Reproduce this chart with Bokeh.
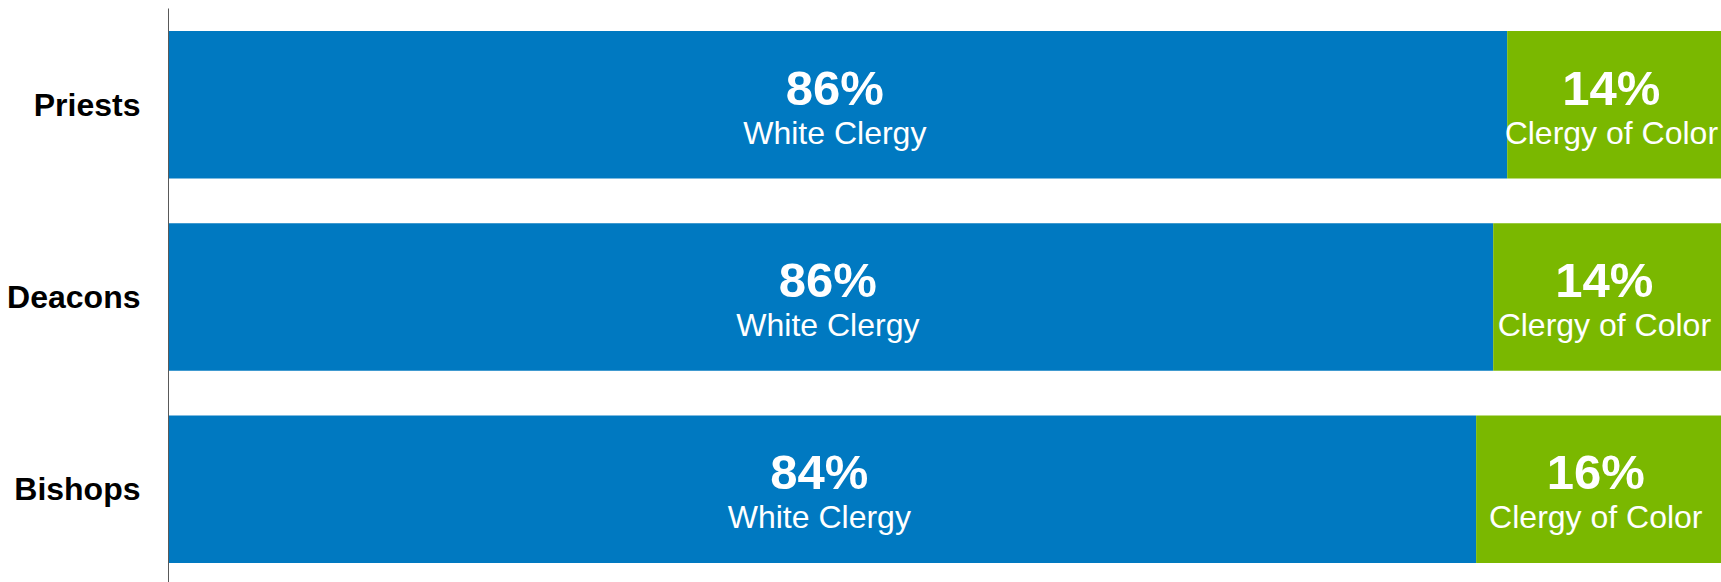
from bokeh.plotting import figure
from bokeh.models import ColumnDataSource, Range1d, FixedTicker
from bokeh.core.properties import value
from bokeh.embed import file_html
from bokeh.resources import INLINE

# ---- data ----
categories = ["Priests", "Deacons", "Bishops"]
white_share = [86.2, 85.3, 84.2]
color_share = [13.8, 14.7, 15.8]
white_pct_labels = ["86%", "86%", "84%"]
color_pct_labels = ["14%", "14%", "16%"]
white_name = "White Clergy"
color_name = "Clergy of Color"

BLUE = "#0079C1"
GREEN = "#7AB800"
FONT = "Liberation Sans"

# ---- layout constants ----
W, H = 1721, 582
LEFT = 168
TOP = 8
UNIT_PX = 192.3          # vertical pixels per category slot
BAR_H = 0.767            # bar thickness in slot units
PX_PER_PCT = 15.53
n = len(categories)
ypos = [n - 0.5 - i for i in range(n)]  # top to bottom

src = ColumnDataSource(dict(
    y=ypos,
    cat=categories,
    white=white_share,
    color_end=[w + c for w, c in zip(white_share, color_share)],
    white_mid=[w / 2 for w in white_share],
    color_mid=[w + c / 2 for w, c in zip(white_share, color_share)],
    wpct=white_pct_labels,
    cpct=color_pct_labels,
    wname=[white_name] * n,
    cname=[color_name] * n,
))

frame_w = W - LEFT
frame_h = H - TOP
p = figure(width=W, height=H, output_backend="svg", toolbar_location=None,
           x_range=Range1d(0, frame_w / PX_PER_PCT),
           y_range=Range1d(n - frame_h / UNIT_PX, n),
           min_border_left=LEFT, min_border_right=0,
           min_border_top=TOP, min_border_bottom=0)

p.hbar(y="y", left=0, right="white", height=BAR_H, source=src,
       fill_color=BLUE, line_color=None)
p.hbar(y="y", left="white", right="color_end", height=BAR_H, source=src,
       fill_color=GREEN, line_color=None)

for xcol, pcol, ncol in (("white_mid", "wpct", "wname"), ("color_mid", "cpct", "cname")):
    p.text(x=xcol, y="y", text=pcol, source=src, text_align="center",
           text_baseline="alphabetic", y_offset=-17, x_offset=-3,
           text_font=value(FONT), text_font_style="bold",
           text_font_size="49px", text_color="white")
    p.text(x=xcol, y="y", text=ncol, source=src, text_align="center",
           text_baseline="alphabetic", y_offset=28, x_offset=-3,
           text_font=value(FONT), text_font_size="32px", text_color="white")

p.xaxis.visible = False
p.xgrid.visible = False
p.ygrid.visible = False
p.outline_line_color = None

p.yaxis.ticker = FixedTicker(ticks=ypos)
p.yaxis.major_label_overrides = {y: c for y, c in zip(ypos, categories)}
p.yaxis.major_tick_line_color = None
p.yaxis.minor_tick_line_color = None
p.yaxis.major_tick_out = 0
p.yaxis.major_tick_in = 0
p.yaxis.major_label_standoff = 28
p.yaxis.axis_line_color = "#595959"
p.yaxis.axis_line_width = 1
p.yaxis.major_label_text_font = FONT
p.yaxis.major_label_text_font_style = "bold"
p.yaxis.major_label_text_font_size = "32px"
p.yaxis.major_label_text_color = "black"

open("out.html", "w").write(file_html(p, INLINE))
